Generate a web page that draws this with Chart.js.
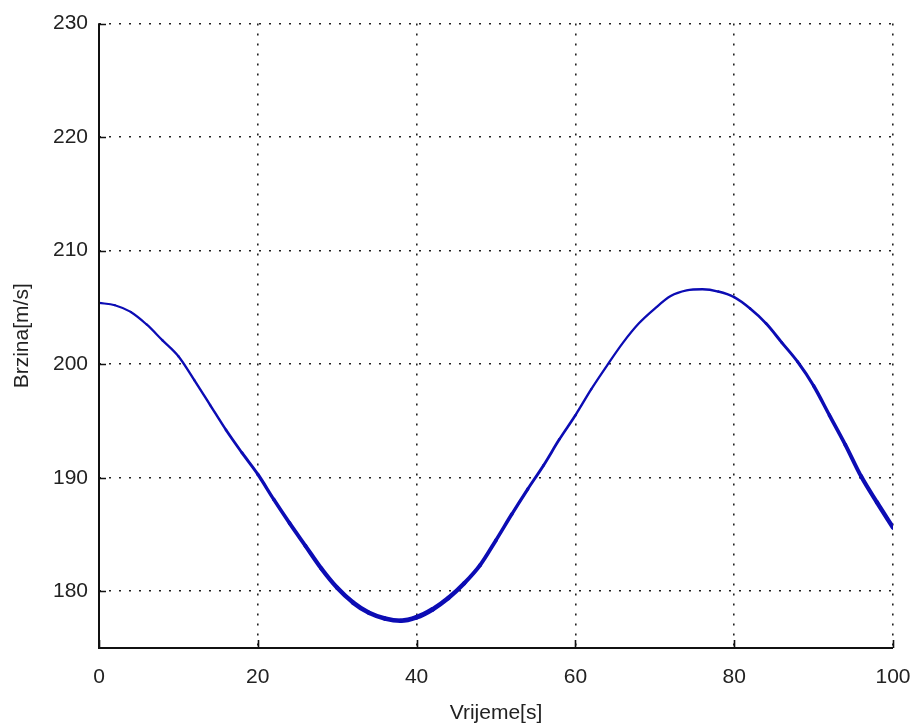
<!DOCTYPE html>
<html>
<head>
<meta charset="utf-8">
<script src="https://cdn.jsdelivr.net/npm/chart.js@4"></script>
<style>
  html, body { margin: 0; padding: 0; background: #fff; }
  #wrap { width: 917px; height: 726px; }
</style>
</head>
<body>
<div id="wrap"><canvas id="c" width="917" height="726"></canvas></div>
<script>
const time = [0,2,4,6,8,10,12,14,16,18,20,22,24,26,28,30,32,34,36,38,40,42,44,46,48,50,
  52,54,56,58,60,62,64,66,68,70,72,74,76,78,80,82,84,86,88,90,92,94,96,98,100];
const speed = [205.4,205.2,204.6,203.5,202.1,200.7,198.6,196.4,194.2,192.2,190.3,188.1,186.0,
  184.0,182.0,180.3,179.0,178.1,177.6,177.4,177.7,178.4,179.4,180.7,182.3,184.5,186.8,189.0,
  191.1,193.4,195.5,197.8,199.9,201.9,203.6,204.9,206.0,206.5,206.6,206.4,205.9,204.9,203.6,
  201.9,200.2,198.1,195.5,192.9,190.1,187.8,185.6];
const xTicks = [0,20,40,60,80,100];
const yTicks = [180,190,200,210,220,230];
const xLabel = 'Vrijeme[s]';
const yLabel = 'Brzina[m/s]';

const font = { family: '"Liberation Sans", Arial, sans-serif', size: 21 };
const gridStyle = { color: '#222', lineWidth: 1.6, drawTicks: false };

// trace gets thicker where the original signal is noisy; widths ramp smoothly
const widthKnots = [[0, 2], [15, 2.5], [30, 4.5], [42, 4.8], [55, 3], [62, 2.3], [78, 2.3], [90, 3.3], [100, 4.6]];
function segWidth(ctx){
  const x = (ctx.p0.parsed.x + ctx.p1.parsed.x) / 2;
  for (let i = 1; i < widthKnots.length; i++){
    const [x0, w0] = widthKnots[i - 1], [x1, w1] = widthKnots[i];
    if (x <= x1) return w0 + (w1 - w0) * (x - x0) / (x1 - x0);
  }
  return 4.6;
}

// MATLAB style ticks pointing into the plot, plus solid axis lines
const innerTicks = {
  id: 'innerTicks',
  afterDatasetsDraw(chart){
    const { ctx, chartArea: a, scales } = chart;
    ctx.save();
    ctx.strokeStyle = '#111';
    ctx.lineWidth = 1.6;
    ctx.beginPath();
    for (const v of yTicks){
      const y = Math.round(scales.y.getPixelForValue(v)) + 0.5;
      ctx.moveTo(a.left, y); ctx.lineTo(a.left + 7, y);
    }
    for (const v of xTicks){
      const x = Math.round(scales.x.getPixelForValue(v)) + 0.5;
      ctx.moveTo(x, a.bottom); ctx.lineTo(x, a.bottom - 8);
    }
    ctx.stroke();
    ctx.lineWidth = 2;
    ctx.beginPath();
    ctx.moveTo(a.left, a.top); ctx.lineTo(a.left, a.bottom); ctx.lineTo(a.right, a.bottom);
    ctx.stroke();
    ctx.restore();
  }
};

new Chart(document.getElementById('c'), {
  type: 'line',
  data: {
    datasets: [{
      data: time.map((t, i) => ({ x: t, y: speed[i] })),
      borderColor: '#0c0cb4',
      borderWidth: 3,
      borderJoinStyle: 'round',
      borderCapStyle: 'round',
      pointRadius: 0,
      cubicInterpolationMode: 'monotone',
      segment: { borderWidth: segWidth }
    }]
  },
  options: {
    responsive: false,
    animation: false,
    layout: { padding: { top: 21, right: 0, left: 0, bottom: 0 } },
    plugins: { legend: { display: false }, tooltip: { enabled: false } },
    scales: {
      x: {
        type: 'linear', min: 0, max: 100,
        afterBuildTicks: s => { s.ticks = xTicks.map(v => ({ value: v })); },
        afterFit: s => { s.height = 78; s.paddingRight = 24; s.paddingLeft = 0; },
        grid: { ...gridStyle },
        border: { display: false, dash: [2, 8] },
        ticks: { font, color: '#222', padding: 17, maxRotation: 0 },
        title: { display: true, text: xLabel, font, color: '#222', padding: { top: 4, bottom: 0 } }
      },
      y: {
        min: 175, max: 230,
        afterBuildTicks: s => { s.ticks = yTicks.map(v => ({ value: v })); },
        afterFit: s => { s.width = 99; },
        grid: { ...gridStyle },
        border: { display: false, dash: [2, 8] },
        ticks: { font, color: '#222', padding: 11 },
        title: { display: true, text: yLabel, font, color: '#222', padding: { top: 10, bottom: 0 } }
      }
    }
  },
  plugins: [innerTicks]
});
</script>
</body>
</html>
